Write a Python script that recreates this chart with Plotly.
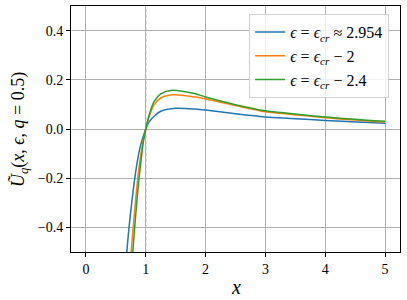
import plotly.graph_objects as go

# Data
x_blue = [0.66, 0.683, 0.72, 0.76, 0.8, 0.85, 0.9, 0.95, 1.0, 1.06, 1.14, 1.25, 1.5, 1.83, 2.0, 2.5, 3.0, 3.42, 4.0, 5.0]
y_blue = [-0.57, -0.5, -0.4, -0.31, -0.23, -0.145, -0.08, -0.035, 0.0, 0.03, 0.052, 0.072, 0.084, 0.081, 0.077, 0.062, 0.049, 0.043, 0.035, 0.023]

x_orange = [0.735, 0.755, 0.79, 0.83, 0.87, 0.91, 0.955, 1.0, 1.06, 1.14, 1.25, 1.45, 1.83, 2.0, 2.5, 3.0, 3.42, 4.0, 5.0]
y_orange = [-0.58, -0.5, -0.4, -0.29, -0.19, -0.115, -0.05, 0.0, 0.053, 0.099, 0.126, 0.139, 0.130, 0.122, 0.095, 0.070, 0.060, 0.046, 0.028]

x_green = [0.765, 0.783, 0.815, 0.852, 0.89, 0.925, 0.962, 1.0, 1.06, 1.14, 1.25, 1.42, 1.83, 2.0, 2.5, 3.0, 3.42, 4.0, 5.0]
y_green = [-0.58, -0.5, -0.4, -0.29, -0.195, -0.12, -0.048, 0.0, 0.06, 0.112, 0.143, 0.157, 0.143, 0.130, 0.099, 0.074, 0.063, 0.049, 0.031]

names = ["<i>ϵ</i> = <i>ϵ<sub>cr</sub></i> ≈ 2.954",
         "<i>ϵ</i> = <i>ϵ<sub>cr</sub></i> − 2",
         "<i>ϵ</i> = <i>ϵ<sub>cr</sub></i> − 2.4"]
colors = ["#1f77b4", "#ff7f0e", "#2ca02c"]

x_ticks = [0, 1, 2, 3, 4, 5]
y_ticks = [-0.4, -0.2, 0.0, 0.2, 0.4]
y_ticktext = ["−0.4", "−0.2", "0.0", "0.2", "0.4"]

FONT = "'Liberation Serif', serif"

fig = go.Figure()
for xs, ys, nm, c in zip([x_blue, x_orange, x_green], [y_blue, y_orange, y_green], names, colors):
    fig.add_trace(go.Scatter(x=xs, y=ys, mode="lines", name=nm,
                             line=dict(color=c, width=1.5, shape="spline", smoothing=0.8)))

fig.add_shape(type="line", x0=1, x1=1, y0=0, y1=1, xref="x", yref="paper",
              line=dict(color="#808080", width=0.8, dash="dot"), layer="below")

fig.add_annotation(text="<i>x</i>", x=0.5, y=-0.142, xref="paper", yref="paper",
                   showarrow=False, xanchor="center", yanchor="middle",
                   font=dict(family=FONT, size=20))
fig.add_annotation(text="<i>Ũ<sub>q</sub></i>(<i>x</i>, <i>ϵ</i>, <i>q</i> = 0.5)",
                   x=-0.155, y=0.496, xref="paper", yref="paper", textangle=-90,
                   showarrow=False, xanchor="center", yanchor="middle",
                   font=dict(family=FONT, size=18))

fig.update_layout(
    width=407, height=300,
    margin=dict(l=71, r=7, t=6, b=48),
    paper_bgcolor="white", plot_bgcolor="white",
    font=dict(family=FONT, size=13, color="black"),
    showlegend=True,
    legend=dict(x=0.967, y=0.967, xanchor="right", yanchor="top",
                bgcolor="rgba(255,255,255,0.8)", bordercolor="#d0d0d0", borderwidth=1,
                font=dict(family=FONT, size=16), tracegroupgap=0, itemwidth=30),
    xaxis=dict(range=[-0.25, 5.25], tickvals=x_ticks, ticks="outside", ticklen=4,
               tickcolor="black", showgrid=True, gridcolor="#b0b0b0", gridwidth=0.8,
               zeroline=False, showline=True, linecolor="black", linewidth=1, mirror=True,
               tickfont=dict(family=FONT, size=14), automargin=False),
    yaxis=dict(range=[-0.5, 0.5], tickvals=y_ticks, ticktext=y_ticktext, ticks="outside",
               ticklen=4, tickcolor="black", showgrid=True, gridcolor="#b0b0b0", gridwidth=0.8,
               zeroline=False, showline=True, linecolor="black", linewidth=1, mirror=True,
               tickfont=dict(family=FONT, size=14), automargin=False),
)

fig.write_html("out.html", config={"displayModeBar": False},
               post_script="document.body.style.margin='0';document.body.style.padding='0';")
